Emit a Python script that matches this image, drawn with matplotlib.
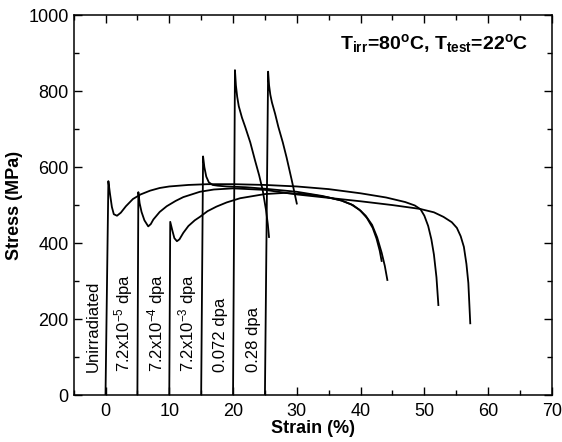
import matplotlib
matplotlib.use("Agg")
import matplotlib.pyplot as plt
from matplotlib.ticker import MultipleLocator

plt.rcParams['font.family'] = ['Liberation Sans', 'DejaVu Sans']
plt.rcParams['mathtext.fontset'] = 'custom'
plt.rcParams['mathtext.rm'] = 'Liberation Sans'
plt.rcParams['mathtext.it'] = 'Liberation Sans:italic'
plt.rcParams['mathtext.bf'] = 'Liberation Sans:bold'
plt.rcParams['mathtext.default'] = 'bf'

# ---- data (strain %, stress MPa) ----
unirr_strain = [0, 0.45, 0.7, 1.0, 1.3, 1.8, 2.4, 3.2, 4.3, 5.5, 7.0, 8.5, 10, 13, 16, 20, 25, 30, 35, 40,
                44, 47, 48.5, 49.4, 50.0, 50.6, 51.1, 51.5, 51.9, 52.2]
unirr_stress = [0, 563, 530, 495, 476, 472, 480, 497, 516, 528, 538, 545, 549, 553, 555, 555, 553, 549, 542, 531,
                520, 508, 499, 489, 472, 445, 410, 370, 310, 237]

d5_strain = [5.0, 5.15, 5.35, 5.65, 6.1, 6.7, 7.1, 7.5, 8.5, 9.6, 11, 12.2, 14.8, 17, 20, 25, 30, 35, 40, 45,
             49.3, 51.5, 53.0, 54.3, 55.1, 55.7, 56.2, 56.6, 56.9, 57.2]
d5_stress = [0, 534, 505, 482, 460, 444, 450, 462, 482, 497, 511, 521, 535, 541, 544, 540, 528, 519, 510, 500,
             490, 481, 469, 455, 440, 418, 390, 345, 295, 189]

d4_strain = [10.0, 10.15, 10.5, 10.8, 11.2, 11.6, 12.2, 13.0, 14.0, 14.8, 16, 17.4, 19, 21.1, 25, 28, 32, 35,
             37, 38.5, 39.8, 40.8, 41.8, 42.6, 43.3, 43.8, 44.2]
d4_stress = [0, 456, 432, 413, 405, 410, 427, 445, 460, 469, 484, 496, 507, 518, 529, 532, 528, 520,
             512, 502, 488, 472, 448, 415, 375, 340, 303]

d3_strain = [15.0, 15.3, 15.5, 15.8, 16.2, 16.8, 17.6, 19, 22, 25, 30, 34, 37, 38.8, 40.0, 41.0, 41.9, 42.5,
             43.0, 43.3]
d3_stress = [0, 628, 600, 575, 560, 553, 551, 549, 547, 543, 535, 524, 512, 500, 485, 466, 440, 412,
             380, 353]

d072_strain = [20.0, 20.3, 20.45, 20.65, 20.9, 21.4, 21.9, 22.7, 23.44, 24.1, 24.65, 25.17, 25.45, 25.64]
d072_stress = [0, 855, 815, 785, 760, 730, 706, 665, 618, 578, 539, 487, 450, 416]

d28_strain = [25.0, 25.5, 25.65, 25.85, 26.1, 26.6, 27.1, 27.8, 28.4, 29.2, 29.6, 30.0]
d28_stress = [0, 851, 815, 790, 770, 740, 706, 665, 625, 566, 535, 504]

labels = ['Unirradiated', r'7.2x10$^{\mathrm{-5}}$ dpa', r'7.2x10$^{\mathrm{-4}}$ dpa',
          r'7.2x10$^{\mathrm{-3}}$ dpa', '0.072 dpa', '0.28 dpa']
label_x = [-2.0, 2.9, 8.0, 12.9, 18.1, 23.2]

curves = [(unirr_strain, unirr_stress), (d5_strain, d5_stress), (d4_strain, d4_stress),
          (d3_strain, d3_stress), (d072_strain, d072_stress), (d28_strain, d28_stress)]

fig = plt.figure(figsize=(5.62, 4.42), dpi=100)
ax = fig.add_axes([0.131, 0.106, 0.851, 0.860])

for s, t in curves:
    ax.plot(s, t, color='black', lw=1.3, solid_joinstyle='round')

for lab, x in zip(labels, label_x):
    ax.text(x, 62, lab, rotation=90, ha='center', va='bottom', fontsize=12)

ax.text(0.95, 0.925, 'T$_{irr}$=80$^{o}$C, T$_{test}$=22$^{o}$C',
        transform=ax.transAxes, ha='right', va='center', fontsize=14, fontweight='bold')

ax.set_xlim(-5, 70)
ax.set_ylim(0, 1000)
ax.xaxis.set_major_locator(MultipleLocator(10))
ax.xaxis.set_minor_locator(MultipleLocator(5))
ax.yaxis.set_major_locator(MultipleLocator(200))
ax.yaxis.set_minor_locator(MultipleLocator(100))
ax.tick_params(which='both', direction='in', top=True, right=True, labelsize=13, width=1.0)
ax.tick_params(which='major', length=6)
ax.tick_params(which='minor', length=3.5)
ax.tick_params(axis='x', pad=6)
for sp in ax.spines.values():
    sp.set_linewidth(1.1)

ax.set_xlabel('Strain (%)', fontsize=13, fontweight='bold', labelpad=0)
ax.set_ylabel('Stress (MPa)', fontsize=13, fontweight='bold', labelpad=4)

fig.savefig('out.png', dpi=100)
